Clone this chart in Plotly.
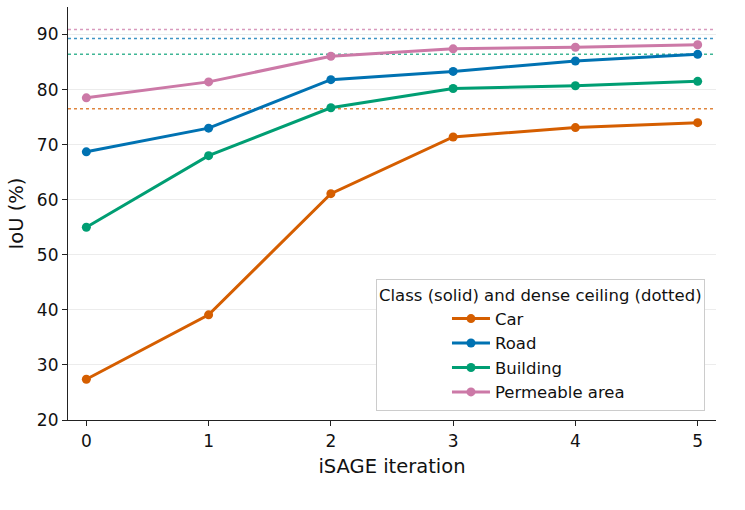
import plotly.graph_objects as go

iterations = [0, 1, 2, 3, 4, 5]
classes = ["Car", "Road", "Building", "Permeable area"]
car = [27.4, 39.1, 61.1, 71.4, 73.1, 74.0]
road = [68.7, 73.0, 81.8, 83.3, 85.2, 86.4]
building = [55.0, 68.0, 76.7, 80.2, 80.7, 81.5]
permeable = [78.5, 81.4, 86.05, 87.4, 87.7, 88.15]
ceilings = [76.5, 89.3, 86.4, 90.9]
colors = ["#d55e00", "#0072b2", "#009e73", "#cc79a7"]
series = [car, road, building, permeable]

FONT = "DejaVu Sans"
fig = go.Figure()

# dotted ceilings
for name, ceil, col in zip(classes, ceilings, colors):
    fig.add_trace(go.Scatter(
        x=[-0.15, 5.15], y=[ceil, ceil], mode="lines",
        line=dict(color=col, width=1.5, dash="dot"), opacity=0.75,
        showlegend=False, hoverinfo="skip"))

for name, vals, col in zip(classes, series, colors):
    fig.add_trace(go.Scatter(
        x=iterations, y=vals, mode="lines+markers", name=name,
        line=dict(color=col, width=3), marker=dict(color=col, size=9)))

fig.update_layout(
    width=745, height=510,
    margin=dict(l=68, r=29, t=7, b=90),
    plot_bgcolor="white", paper_bgcolor="white",
    font=dict(family=FONT, size=16, color="#111"),
    legend=dict(
        title=dict(text="Class (solid) and dense ceiling (dotted)", font=dict(size=16.5, family=FONT)),
        x=0.983, xanchor="right", y=0.022, yanchor="bottom",
        bgcolor="white", bordercolor="#cccccc", borderwidth=1,
        font=dict(size=16.5, family=FONT), indentation=70, itemwidth=38,
        tracegroupgap=0,
    ),
    xaxis=dict(
        range=[-0.15, 5.15], tickmode="array", tickvals=iterations,
        ticktext=[str(i) for i in iterations],
        showgrid=False, zeroline=False,
        showline=True, linecolor="#222", linewidth=1.2,
        ticks="outside", ticklen=5, tickcolor="#222",
        tickfont=dict(size=17),
        title=dict(text="iSAGE iteration", font=dict(size=19.5), standoff=9),
    ),
    yaxis=dict(
        range=[20, 95], tickmode="array", tickvals=[20, 30, 40, 50, 60, 70, 80, 90],
        showgrid=True, gridcolor="#ececec", gridwidth=0.8, zeroline=False,
        showline=True, linecolor="#222", linewidth=1.2,
        ticks="outside", ticklen=5, tickcolor="#222",
        tickfont=dict(size=17),
        title=dict(text="IoU (%)", font=dict(size=19.5), standoff=8),
    ),
)

fig.write_html("out.html")
